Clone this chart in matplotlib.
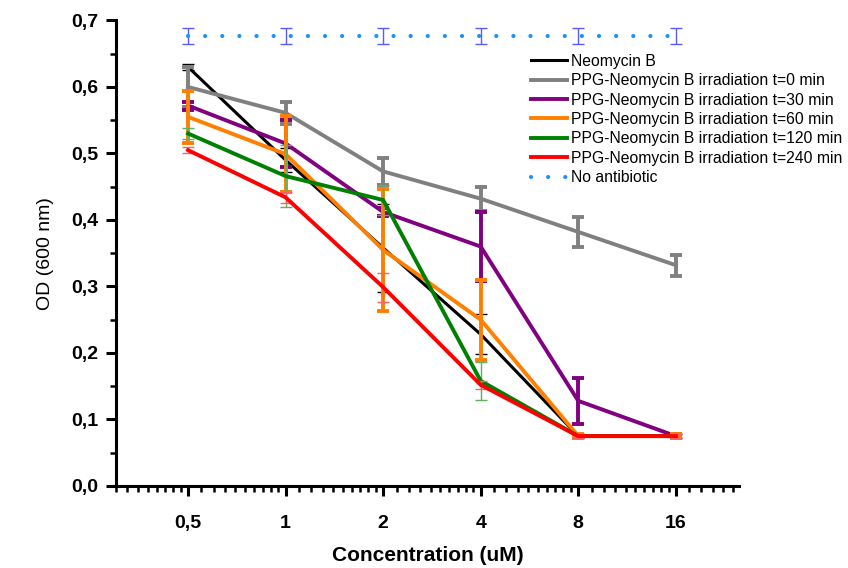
import numpy as np
import matplotlib.pyplot as plt
from matplotlib.ticker import FixedLocator, FuncFormatter, NullFormatter

conc = [0.5, 1, 2, 4, 8, 16]
conc_labels = ['0,5', '1', '2', '4', '8', '16']

neo = [0.630, 0.490, 0.358, 0.228, 0.075, 0.075]
neo_err = [0.004, 0.018, 0.066, 0.030, 0.003, 0.003]
t0 = [0.600, 0.561, 0.473, 0.432, 0.382, 0.332]
t0_err = [0.030, 0.016, 0.020, 0.018, 0.023, 0.016]
t30 = [0.572, 0.515, 0.412, 0.360, 0.128, 0.075]
t30_err = [0.006, 0.036, 0.006, 0.052, 0.035, 0.003]
t60 = [0.555, 0.499, 0.355, 0.250, 0.075, 0.075]
t60_err = [0.039, 0.057, 0.092, 0.060, 0.003, 0.003]
t120 = [0.530, 0.466, 0.430, 0.158, 0.075, 0.075]
t120_err = [0.009, 0.046, 0.023, 0.028, 0.003, 0.003]
t240 = [0.505, 0.434, 0.299, 0.152, 0.075, 0.075]
t240_err = [0.005, 0.008, 0.022, 0.006, 0.003, 0.003]
no_ab = [0.677, 0.677, 0.677, 0.677, 0.677, 0.677]
no_ab_err = [0.012, 0.012, 0.012, 0.012, 0.012, 0.012]

plt.rcParams['font.family'] = ['Liberation Sans', 'DejaVu Sans']
narrow = ['Liberation Sans Narrow', 'Liberation Sans', 'DejaVu Sans']

fig = plt.figure(figsize=(8.48, 5.68), dpi=100)
ax = fig.add_axes([0.137, 0.1444, 0.734, 0.8196])

# (label, values, errors, line colour, line width, error colour, error width)
series = [
    ('Neomycin B', neo, neo_err, 'black', 2.2, 'black', 1.0),
    ('PPG-Neomycin B irradiation t=0 min', t0, t0_err, '#808080', 2.8, '#808080', 2.8),
    ('PPG-Neomycin B irradiation t=30 min', t30, t30_err, '#800080', 2.8, '#800080', 2.8),
    ('PPG-Neomycin B irradiation t=60 min', t60, t60_err, '#ff8000', 2.8, '#ff8000', 2.8),
    ('PPG-Neomycin B irradiation t=120 min', t120, t120_err, '#008000', 2.8, '#60b060', 1.0),
    ('PPG-Neomycin B irradiation t=240 min', t240, t240_err, '#ff0000', 2.8, '#ff6060', 1.0),
]

for label, y, err, col, lw, ecol, elw in series:
    ax.errorbar(conc, y, yerr=err, fmt='none', ecolor=ecol, elinewidth=elw,
                capsize=4, capthick=elw)
    ax.plot(conc, y, color=col, lw=lw, label=label, solid_joinstyle='miter')

ax.errorbar(conc, no_ab, yerr=no_ab_err, fmt='none', ecolor='#5a5aff',
            elinewidth=1.0, capsize=4, capthick=1.0)
ax.plot(conc, no_ab, color='#1e8fff', lw=3, linestyle=(0, (0.01, 4.1)),
        dash_capstyle='round', label='No antibiotic')

ax.set_xscale('log', base=2)
ax.set_xlim(0.3, 25)
ax.set_ylim(0, 0.7)

ax.xaxis.set_major_locator(FixedLocator(conc))
ax.xaxis.set_major_formatter(FuncFormatter(lambda v, p: conc_labels[p] if p is not None and p < len(conc_labels) else ''))
minors = []
for a in [0.25, 0.5, 1, 2, 4, 8, 16]:
    minors += [a + k * a / 10 for k in range(1, 10)]
minors = [m for m in minors if 0.3 <= m <= 25 and m not in conc]
ax.xaxis.set_minor_locator(FixedLocator(minors))
ax.xaxis.set_minor_formatter(NullFormatter())

ax.set_yticks(np.arange(0, 0.71, 0.1))
ax.set_yticks(np.arange(0.05, 0.7, 0.1), minor=True)
ax.yaxis.set_major_formatter(FuncFormatter(lambda v, p: f'{v:.1f}'.replace('.', ',')))
ax.yaxis.set_minor_formatter(NullFormatter())

for s in ['top', 'right']:
    ax.spines[s].set_visible(False)
for s in ['left', 'bottom']:
    ax.spines[s].set_linewidth(2.2)

ax.tick_params(which='major', direction='out', length=7, width=2.2,
               labelsize=14, pad=6)
ax.tick_params(which='minor', direction='out', length=4, width=1.8)
for lab in ax.get_xticklabels() + ax.get_yticklabels():
    lab.set_fontweight('bold')
    lab.set_family(narrow)
ax.tick_params(axis='x', pad=14)

ax.set_xlabel('Concentration (uM)', fontsize=15, fontweight='bold',
              family=narrow, labelpad=10)
ax.set_ylabel('OD (600 nm)', fontsize=14, labelpad=12)

ax.legend(loc='upper left', bbox_to_anchor=(0.656, 0.942), frameon=False,
          fontsize=11.3, handlelength=2.3, handletextpad=0.25, labelspacing=0.28,
          borderaxespad=0)

fig.savefig('out.png', dpi=100)
